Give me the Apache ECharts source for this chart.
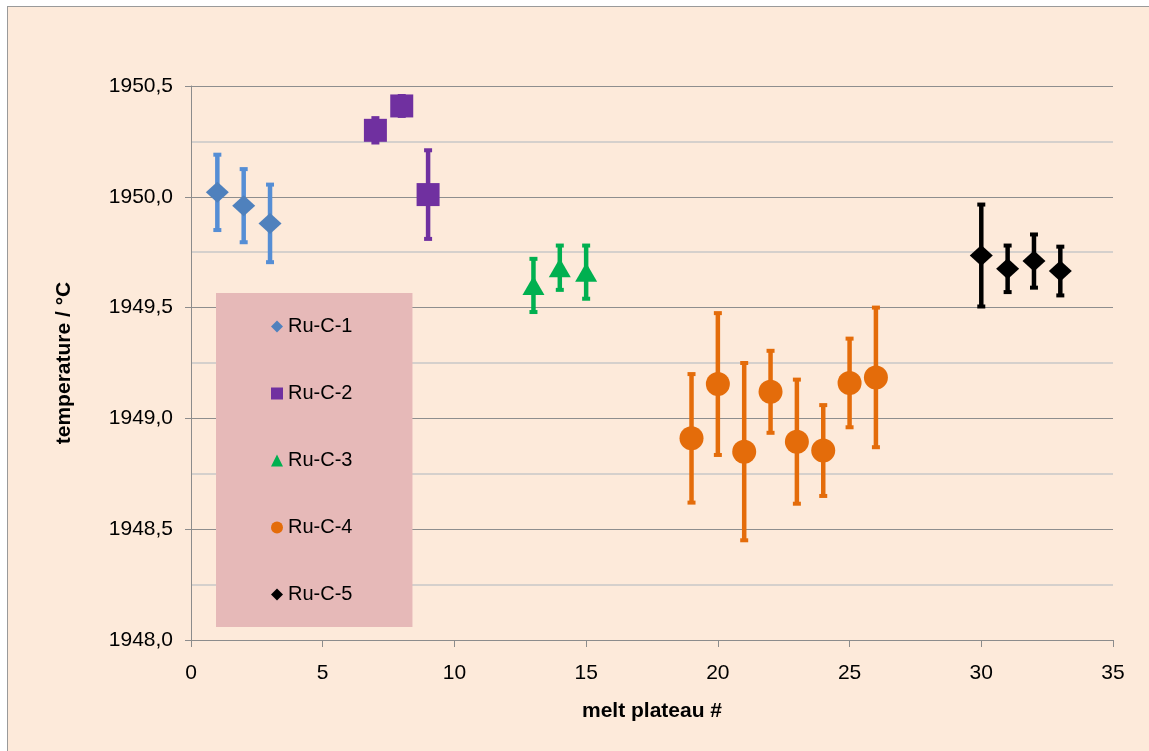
<!DOCTYPE html>
<html><head><meta charset="utf-8">
<script src="https://cdn.jsdelivr.net/npm/echarts@6/dist/echarts.min.js"></script>
<style>
html,body{margin:0;padding:0;background:#fff;}
#wrap{position:relative;width:1149px;height:751px;overflow:hidden;}
#bg{position:absolute;left:7px;top:6px;width:1150px;height:760px;background:#FDEADA;border-left:1px solid #9a9a9a;border-top:1px solid #9a9a9a;}
#c{position:absolute;left:0;top:0;width:1149px;height:751px;}
</style>
</head><body><div id="wrap"><div id="bg"></div><div id="c"></div></div><script>
// ---- data ----
const seriesNames = ['Ru-C-1', 'Ru-C-2', 'Ru-C-3', 'Ru-C-4', 'Ru-C-5'];
const c1X = [1, 2, 3];
const c1Y = [1950.02, 1949.96, 1949.88];
const c1Err = [0.17, 0.165, 0.175];
const c2X = [7, 8, 9];
const c2Y = [1950.30, 1950.41, 1950.01];
const c2Err = [0.055, 0.045, 0.20];
const c3X = [13, 14, 15];
const c3Y = [1949.60, 1949.68, 1949.66];
const c3Err = [0.12, 0.10, 0.12];
const c4X = [19, 20, 21, 22, 23, 24, 25, 26];
const c4Y = [1948.91, 1949.155, 1948.85, 1949.12, 1948.895, 1948.855, 1949.16, 1949.185];
const c4Err = [0.29, 0.32, 0.40, 0.185, 0.28, 0.205, 0.20, 0.315];
const c5X = [30, 31, 32, 33];
const c5Y = [1949.735, 1949.675, 1949.71, 1949.665];
const c5Err = [0.23, 0.105, 0.12, 0.11];
const xTickLabels = ['0', '5', '10', '15', '20', '25', '30', '35'];
const yTickLabels = ['1948,0', '1948,5', '1949,0', '1949,5', '1950,0', '1950,5'];
const xTitle = 'melt plateau #';
const yTitle = 'temperature / °C';

// ---- styling ----
const groups = [
  {X: c1X, Y: c1Y, E: c1Err, color: '#4F81BD', err: '#558ED5', symbol: 'diamond', size: [23, 21]},
  {X: c2X, Y: c2Y, E: c2Err, color: '#7030A0', err: '#7030A0', symbol: 'rect', size: [23, 23]},
  {X: c3X, Y: c3Y, E: c3Err, color: '#00B050', err: '#00B050', symbol: 'triangle', size: [22, 19]},
  {X: c4X, Y: c4Y, E: c4Err, color: '#E46C0A', err: '#E46C0A', symbol: 'circle', size: 24},
  {X: c5X, Y: c5Y, E: c5Err, color: '#000000', err: '#000000', symbol: 'diamond', size: [23, 21]}
];
const FONT = '"Liberation Sans", Arial, sans-serif';

function makeErrRenderer(color) {
  return function (params, api) {
    const x = api.value(0), lo = api.value(1), hi = api.value(2);
    const pLo = api.coord([x, lo]);
    const pHi = api.coord([x, hi]);
    const c = 4;
    const st = {stroke: color, lineWidth: 4.5, fill: null};
    const cs = {stroke: color, lineWidth: 4, fill: null};
    return {type: 'group', children: [
      {type: 'line', shape: {x1: pLo[0], y1: pLo[1], x2: pHi[0], y2: pHi[1]}, style: st},
      {type: 'line', shape: {x1: pHi[0] - c, y1: pHi[1], x2: pHi[0] + c, y2: pHi[1]}, style: cs},
      {type: 'line', shape: {x1: pLo[0] - c, y1: pLo[1], x2: pLo[0] + c, y2: pLo[1]}, style: cs}
    ]};
  };
}

const series = [];
groups.forEach((g, i) => {
  series.push({
    name: seriesNames[i] + ' err',
    type: 'custom',
    renderItem: makeErrRenderer(g.err),
    clip: false,
    z: 2,
    encode: {x: 0, y: [1, 2]},
    data: g.X.map((x, k) => [x, g.Y[k] - g.E[k], g.Y[k] + g.E[k]]),
    silent: true
  });
});
groups.forEach((g, i) => {
  series.push({
    name: seriesNames[i],
    type: 'scatter',
    symbol: g.symbol,
    symbolSize: g.size,
    z: 3,
    itemStyle: {color: g.color, opacity: 1},
    data: g.X.map((x, k) => [x, g.Y[k]])
  });
});

const yMin = parseFloat(yTickLabels[0].replace(',', '.'));
const yMax = parseFloat(yTickLabels[yTickLabels.length - 1].replace(',', '.'));
const xMin = parseFloat(xTickLabels[0]);
const xMax = parseFloat(xTickLabels[xTickLabels.length - 1]);

const chart = echarts.init(document.getElementById('c'));
chart.setOption({
  backgroundColor: 'transparent',
  animation: false,
  textStyle: {fontFamily: FONT},
  grid: {left: 191, right: 36, top: 86, bottom: 111, containLabel: false},
  legend: {
    data: seriesNames,
    orient: 'vertical',
    left: 216,
    top: 293,
    padding: [23, 60, 22, 55],
    itemGap: 46,
    itemWidth: 12,
    itemHeight: 12,
    backgroundColor: '#E6B9B8',
    borderWidth: 0,
    selectedMode: false,
    textStyle: {fontSize: 20, color: '#000', fontFamily: FONT, lineHeight: 21}
  },
  xAxis: {
    type: 'value',
    min: xMin, max: xMax, interval: 5,
    name: xTitle,
    nameLocation: 'middle',
    nameGap: 61,
    nameTextStyle: {fontSize: 21, fontWeight: 'bold', color: '#000', fontFamily: FONT},
    axisLine: {show: true, onZero: false, lineStyle: {color: '#8c8c8c', width: 1}},
    axisTick: {show: true, length: 7, inside: false, lineStyle: {color: '#8c8c8c'}},
    axisLabel: {fontSize: 21, color: '#000', margin: 23, fontFamily: FONT,
      formatter: v => xTickLabels[Math.round((v - xMin) / 5)]},
    splitLine: {show: false}
  },
  yAxis: {
    type: 'value',
    min: yMin, max: yMax, interval: 0.5,
    name: yTitle,
    nameLocation: 'middle',
    nameRotate: 90,
    nameGap: 116,
    nameTextStyle: {fontSize: 21, fontWeight: 'bold', color: '#000', fontFamily: FONT},
    axisLine: {show: true, onZero: false, lineStyle: {color: '#8c8c8c', width: 1}},
    axisTick: {show: true, length: 6, inside: false, lineStyle: {color: '#8c8c8c'}},
    axisLabel: {fontSize: 21, color: '#000', margin: 18, fontFamily: FONT,
      formatter: v => yTickLabels[Math.round((v - yMin) / 0.5)]},
    splitLine: {show: true, lineStyle: {color: '#8e8e8e', width: 1}},
    minorTick: {show: false, splitNumber: 2},
    minorSplitLine: {show: true, lineStyle: {color: '#c8c8c8', width: 1.5}}
  },
  series: series
});
</script></body></html>
